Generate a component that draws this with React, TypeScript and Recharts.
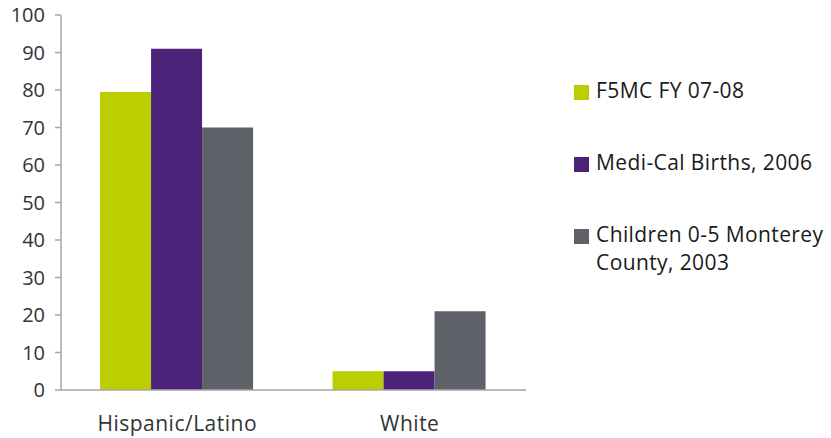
import React from "react";
import { BarChart, Bar, XAxis, YAxis } from "recharts";

const categories = ["Hispanic/Latino", "White"];
const f5mc = [79.5, 5];
const mediCal = [91, 5];
const children = [70, 21];
const yTicks = [0, 10, 20, 30, 40, 50, 60, 70, 80, 90, 100];

const seriesNames = ["F5MC FY 07-08", "Medi-Cal Births, 2006", "Children 0-5 Monterey County, 2003"];
const colors = ["#bccd00", "#4b2379", "#5e6168"];

const data = categories.map((c, i) => ({
  name: c,
  idx: i + 0.5,
  a: f5mc[i],
  b: mediCal[i],
  c: children[i],
}));

const FONT = "'Open Sans', sans-serif";

const LegendBox = () => (
  <div
    style={{
      position: "absolute",
      left: 574,
      top: 76,
      width: 257,
      fontFamily: FONT,
      fontSize: 21,
      letterSpacing: 0.4,
      color: "#1a1a1a",
    }}
  >
    {seriesNames.map((n, i) => (
      <div key={n} style={{ display: "flex", alignItems: "flex-start", marginBottom: i < 2 ? 44 : 0 }}>
        <div style={{ width: 15, height: 15, background: colors[i], marginTop: 9, marginRight: 7, flexShrink: 0 }} />
        <div style={{ width: 240, lineHeight: "28px", whiteSpace: "normal" }}>{n}</div>
      </div>
    ))}
  </div>
);

export default function App() {
  return (
    <div style={{ position: "absolute", left: 0, top: 0, width: 831, height: 438, background: "#fff" }}>
      <BarChart
        width={831}
        height={438}
        data={data}
        margin={{ top: 15, right: 305, left: 0, bottom: 0 }}
        barCategoryGap="16.8%"
        barGap={0}
      >
        <XAxis
          dataKey="name"
          xAxisId="cat"
          axisLine={{ stroke: "#a6a6a6", strokeWidth: 1.5 }}
          tickLine={false}
          tickSize={0}
          tickMargin={26}
          height={48}
          tick={{ fill: "#333", fontSize: 21, fontFamily: FONT, letterSpacing: 0.5 }}
        />
        <XAxis
          xAxisId="edge"
          type="number"
          dataKey="idx"
          domain={[0, 2]}
          ticks={[0, 1, 2]}
          axisLine={false}
          tickLine={{ stroke: "#a6a6a6", strokeWidth: 1.5 }}
          tickSize={7}
          tick={false}
          height={0}
        />
        <YAxis
          domain={[0, 100]}
          ticks={yTicks}
          width={61}
          interval={0}
          axisLine={{ stroke: "#a6a6a6", strokeWidth: 1.5 }}
          tickLine={{ stroke: "#a6a6a6", strokeWidth: 1.5 }}
          tickSize={6}
          tickMargin={10}
          tick={{ fill: "#333", fontSize: 20, fontFamily: FONT }}
        />
        <Bar xAxisId="cat" dataKey="a" name={seriesNames[0]} fill={colors[0]} isAnimationActive={false} />
        <Bar xAxisId="cat" dataKey="b" name={seriesNames[1]} fill={colors[1]} isAnimationActive={false} />
        <Bar xAxisId="cat" dataKey="c" name={seriesNames[2]} fill={colors[2]} isAnimationActive={false} />
      </BarChart>
      <LegendBox />
    </div>
  );
}
